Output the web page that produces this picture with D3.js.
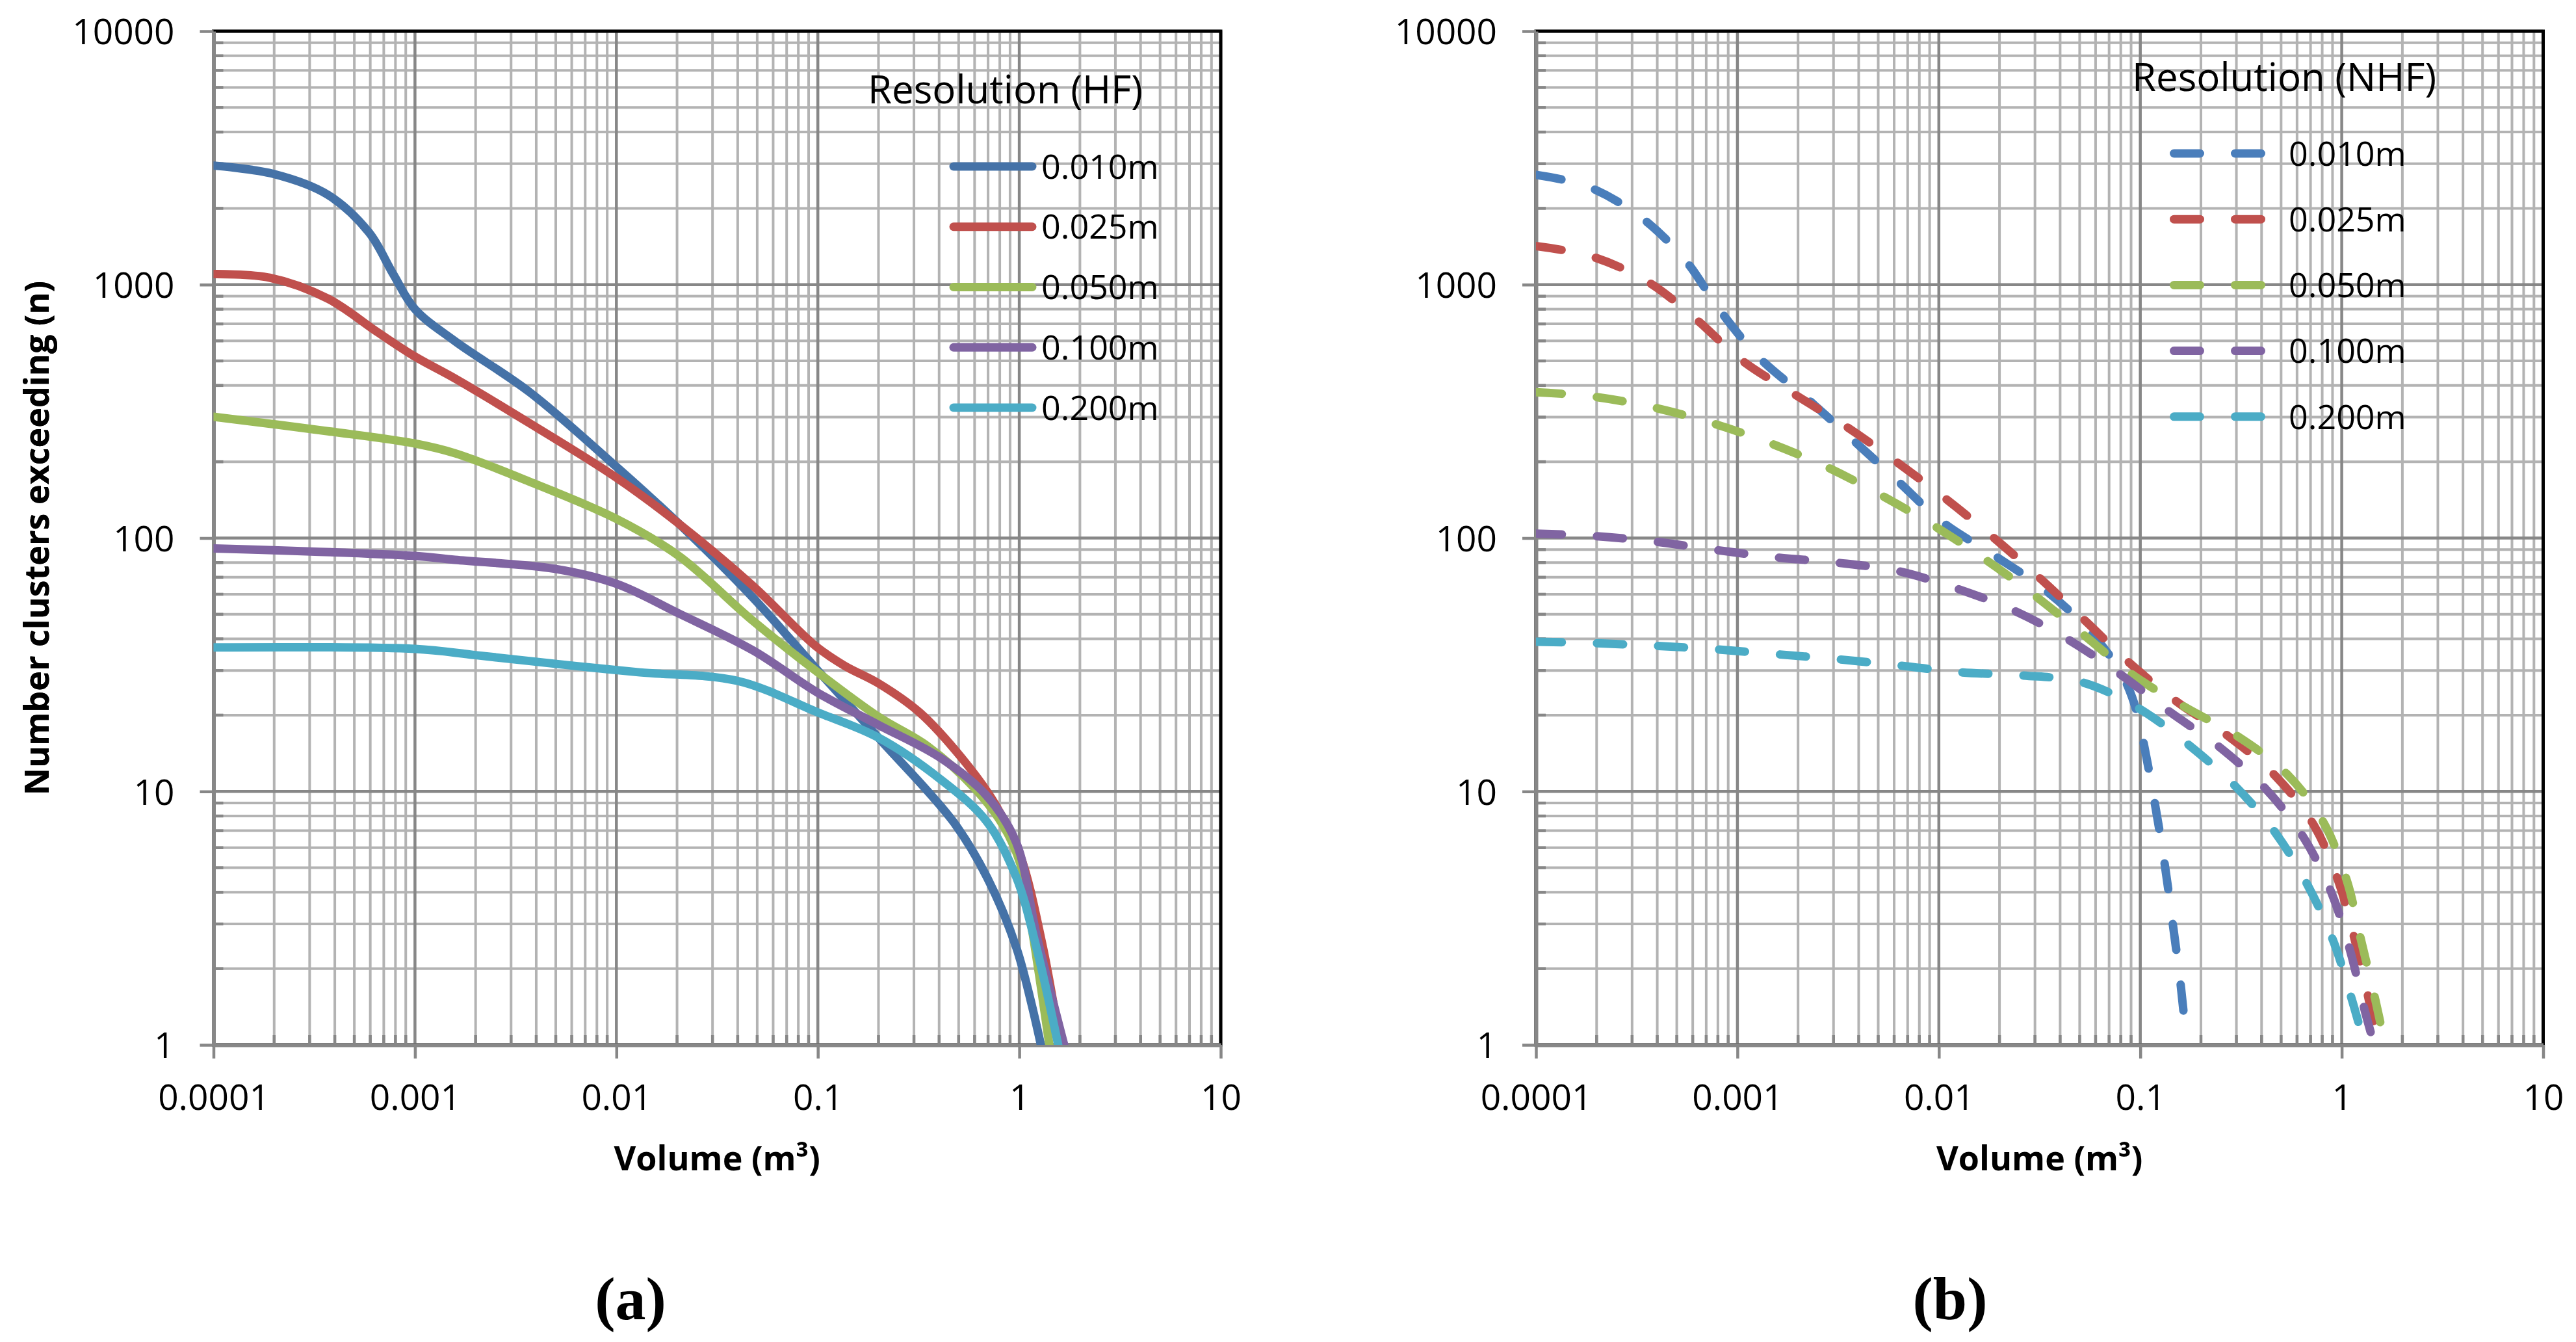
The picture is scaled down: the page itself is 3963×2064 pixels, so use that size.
<!DOCTYPE html>
<html>
<head>
<meta charset="utf-8">
<script src="https://cdn.jsdelivr.net/npm/d3@7"></script>
<style>
  body { margin: 0; background: #fff; }
  text { font-family: "Open Sans", sans-serif; fill: #000; }
</style>
</head>
<body>
<div id="chart"></div>
<script>
// [volume (m3), number of clusters exceeding]
var hf010 = [[0.0001, 2950], [0.0002, 2730], [0.00037, 2260], [0.00059, 1610], [0.00078, 1100],
  [0.001, 800], [0.00158, 598], [0.0037, 377], [0.01, 191], [0.0204, 114], [0.0478, 58],
  [0.1, 30], [0.2, 16.3], [0.47, 7.6], [0.69, 4.6], [0.97, 2.4], [1.28, 1]];
var hf025 = [[0.0001, 1100], [0.00019, 1065], [0.00037, 880], [0.00065, 650], [0.001, 520],
  [0.00158, 426], [0.0037, 284], [0.01, 173], [0.0204, 114], [0.0478, 64.6], [0.0974, 37.5],
  [0.136, 31.3], [0.2, 26.7], [0.32, 20.5], [0.52, 13.5], [0.76, 8.9],
  [1.01, 5.6], [1.3, 2.5], [1.6, 1]];
var hf050 = [[0.0001, 301], [0.00037, 264], [0.001, 236], [0.00158, 216], [0.0037, 167],
  [0.01, 119], [0.0204, 85], [0.0478, 47], [0.1, 29.5], [0.2, 19.7],
  [0.35, 15.1], [0.6, 10.3], [0.835, 7.3], [1.01, 5.2], [1.17, 2.7], [1.41, 1]];
var hf100 = [[0.0001, 91], [0.001, 85], [0.00158, 82], [0.0049, 75.7], [0.01, 66], [0.0204, 50.4],
  [0.048, 35.9], [0.1, 24.5], [0.2, 18.3], [0.41, 13.5], [0.69, 9.6], [0.965, 6.3],
  [1.22, 2.7], [1.67, 1]];
var hf200 = [[0.0001, 37], [0.001, 36.5], [0.002, 34.5], [0.0062, 31.3], [0.0131, 29.5],
  [0.04, 27.3], [0.1, 20.5], [0.2, 16.3], [0.41, 11.1], [0.69, 7.6], [0.965, 4.6],
  [1.22, 2.4], [1.56, 1]];

var nhf010 = [[0.0001, 2710], [0.00018, 2440], [0.00033, 1850], [0.00055, 1250], [0.00082, 790],
  [0.00128, 516], [0.0022, 357], [0.0037, 246], [0.0062, 169], [0.0105, 115], [0.019, 85],
  [0.034, 62], [0.056, 43], [0.079, 30], [0.091, 23.6], [0.1, 17.9], [0.118, 9],
  [0.132, 5.2], [0.145, 3], [0.159, 1.7], [0.17, 1]];
var nhf025 = [[0.0001, 1420], [0.00019, 1290], [0.00036, 1025], [0.00062, 733], [0.00105, 503],
  [0.0019, 371], [0.0035, 274], [0.0061, 201], [0.0108, 143], [0.0188, 100], [0.032, 69],
  [0.0535, 47], [0.089, 32], [0.153, 22.5], [0.274, 16.5], [0.469, 11.5], [0.724, 7.4],
  [0.96, 4.45], [1.156, 2.63], [1.35, 1.56], [1.52, 1]];
var nhf050 = [[0.0001, 376], [0.00019, 362], [0.00038, 328], [0.00076, 283], [0.00147, 236],
  [0.0028, 190], [0.0053, 146], [0.0096, 111], [0.0175, 81], [0.0306, 58.5], [0.0533, 41],
  [0.092, 28.8], [0.167, 21.5], [0.308, 16.4], [0.535, 11.7], [0.815, 7.5], [1.06, 4.45],
  [1.25, 2.57], [1.47, 1.5], [1.64, 1]];
var nhf100 = [[0.0001, 104], [0.00019, 102], [0.00038, 97], [0.00076, 90], [0.00153, 84],
  [0.0031, 80], [0.0063, 74], [0.0124, 63], [0.0239, 51.5], [0.0445, 39.5], [0.08, 28.9],
  [0.139, 20.7], [0.249, 14.9], [0.421, 10.2], [0.645, 6.6], [0.887, 4.0], [1.1, 2.36],
  [1.3, 1.37], [1.45, 1]];
var nhf200 = [[0.0001, 39], [0.00019, 38.5], [0.00038, 37.6], [0.00077, 36.4], [0.00156, 34.8],
  [0.0032, 33.2], [0.0064, 31.4], [0.0129, 29.5], [0.026, 28.7], [0.052, 26.9], [0.099, 21.2],
  [0.175, 15.2], [0.296, 10.5], [0.469, 6.86], [0.676, 4.28], [0.908, 2.57], [1.12, 1.52],
  [1.3, 1]];

var resLabels = ["0.010m", "0.025m", "0.050m", "0.100m", "0.200m"];
var xTicks = [0.0001, 0.001, 0.01, 0.1, 1, 10];
var xTickLabels = ["0.0001", "0.001", "0.01", "0.1", "1", "10"];
var yTicks = [1, 10, 100, 1000, 10000];
var yTickLabels = ["1", "10", "100", "1000", "10000"];

var svgWidth = 3963;
var svgHeight = 2064;
var plotTop = 48;
var plotW = 1549.5;
var plotH = 1559;

var panels = [
  {
    id: "a", left: 328.5, series: [hf010, hf025, hf050, hf100, hf200],
    colors: ["#4572A7", "#C0504D", "#9BBB59", "#8064A2", "#4BACC6"], dash: null,
    legendTitle: "Resolution (HF)", titleX: 1335, titleY: 159,
    lineX0: 1467, lineX1: 1588, textX: 1602, rowY0: 256, rowStep: 92.75,
    caption: "(a)", captionX: 970
  },
  {
    id: "b", left: 2363, series: [nhf010, nhf025, nhf050, nhf100, nhf200],
    colors: ["#4A7EBB", "#C0504D", "#9BBB59", "#8064A2", "#4BACC6"], dash: "40,54",
    legendTitle: "Resolution (NHF)", titleX: 3280, titleY: 140,
    lineX0: 3344.5, lineX1: 3479.5, textX: 3521, rowY0: 236, rowStep: 101.2,
    caption: "(b)", captionX: 3000
  }
];

var svg = d3
  .select("#chart")
  .append("svg")
  .attr("width", svgWidth)
  .attr("height", svgHeight);

var xScale = d3.scaleLog().domain([0.0001, 10]).range([0, plotW]);
var yScale = d3.scaleLog().domain([1, 10000]).range([plotH, 0]);

function isMajor(v) {
  var l = Math.log10(v);
  return Math.abs(l - Math.round(l)) < 1e-9;
}

panels.forEach(function (p) {
  var g = svg
    .append("g")
    .attr("transform", `translate(${p.left}, ${plotTop})`);

  var xAll = xScale.ticks();
  var yAll = yScale.ticks();

  // minor grid first, then major grid on top
  g.selectAll("line.vminor")
    .data(xAll.filter((d) => !isMajor(d)))
    .enter()
    .append("line")
    .attr("x1", (d) => xScale(d))
    .attr("x2", (d) => xScale(d))
    .attr("y1", 0)
    .attr("y2", plotH)
    .attr("stroke", "#b3b3b3")
    .attr("stroke-width", 4);

  g.selectAll("line.hminor")
    .data(yAll.filter((d) => !isMajor(d)))
    .enter()
    .append("line")
    .attr("x1", 0)
    .attr("x2", plotW)
    .attr("y1", (d) => yScale(d))
    .attr("y2", (d) => yScale(d))
    .attr("stroke", "#b3b3b3")
    .attr("stroke-width", 4);

  g.selectAll("line.vmajor")
    .data(xTicks)
    .enter()
    .append("line")
    .attr("x1", (d) => xScale(d))
    .attr("x2", (d) => xScale(d))
    .attr("y1", 0)
    .attr("y2", plotH)
    .attr("stroke", "#878787")
    .attr("stroke-width", 4.5);

  g.selectAll("line.hmajor")
    .data(yTicks)
    .enter()
    .append("line")
    .attr("x1", 0)
    .attr("x2", plotW)
    .attr("y1", (d) => yScale(d))
    .attr("y2", (d) => yScale(d))
    .attr("stroke", "#878787")
    .attr("stroke-width", 4.5);

  // plot area border (top and right stay black)
  g.append("rect")
    .attr("width", plotW)
    .attr("height", plotH)
    .attr("fill", "none")
    .attr("stroke", "#000")
    .attr("stroke-width", 5);

  // minor tick marks point inward
  g.selectAll("line.xmt")
    .data(xAll.filter((d) => !isMajor(d)))
    .enter()
    .append("line")
    .attr("x1", (d) => xScale(d))
    .attr("x2", (d) => xScale(d))
    .attr("y1", plotH)
    .attr("y2", plotH - 15)
    .attr("stroke", "#878787")
    .attr("stroke-width", 4.5);

  g.selectAll("line.ymt")
    .data(yAll.filter((d) => !isMajor(d)))
    .enter()
    .append("line")
    .attr("x1", 0)
    .attr("x2", 15)
    .attr("y1", (d) => yScale(d))
    .attr("y2", (d) => yScale(d))
    .attr("stroke", "#878787")
    .attr("stroke-width", 4.5);

  var xAxis = d3
    .axisBottom(xScale)
    .tickValues(xTicks)
    .tickFormat((d, i) => xTickLabels[i])
    .tickSizeInner(21)
    .tickSizeOuter(0)
    .tickPadding(40);

  var yAxis = d3
    .axisLeft(yScale)
    .tickValues(yTicks)
    .tickFormat((d, i) => yTickLabels[i])
    .tickSizeInner(21)
    .tickSizeOuter(0)
    .tickPadding(39);

  var xg = g.append("g").attr("transform", `translate(0, ${plotH})`).call(xAxis);
  var yg = g.append("g").call(yAxis);

  [xg, yg].forEach(function (ax) {
    ax.select(".domain").attr("stroke", "#878787").attr("stroke-width", 6);
    ax.selectAll(".tick line").attr("stroke", "#878787").attr("stroke-width", 4.5);
    ax.selectAll(".tick text")
      .attr("fill", "#000")
      .style("font-family", '"Open Sans", sans-serif')
      .style("font-size", "55px");
  });
  yg.selectAll(".tick text").attr("dy", "0.36em");

  // curves
  g.append("clipPath")
    .attr("id", "clip-" + p.id)
    .append("rect")
    .attr("width", plotW)
    .attr("height", plotH);

  var line = d3
    .line()
    .x((d) => xScale(d[0]))
    .y((d) => yScale(d[1]))
    .curve(d3.curveCatmullRom.alpha(0.5));

  g.append("g")
    .attr("clip-path", `url(#clip-${p.id})`)
    .selectAll("path")
    .data(p.series)
    .enter()
    .append("path")
    .attr("d", line)
    .attr("fill", "none")
    .attr("stroke", (d, i) => p.colors[i])
    .attr("stroke-width", 13)
    .attr("stroke-linecap", "round")
    .attr("stroke-linejoin", "round")
    .attr("stroke-dasharray", p.dash);

  // axis titles
  g.append("text")
    .attr("x", plotW / 2)
    .attr("y", 1800 - plotTop)
    .style("text-anchor", "middle")
    .style("font-size", "52px")
    .style("font-weight", "bold")
    .text("Volume (m³)");

  g.append("text")
    .attr("transform", `translate(${75 - p.left}, ${plotH / 2}) rotate(-90)`)
    .style("text-anchor", "middle")
    .style("font-size", "52px")
    .style("font-weight", "bold")
    .text("Number clusters exceeding (n)");

  // legend, drawn straight on the grid like the original
  svg.append("text")
    .attr("x", p.titleX)
    .attr("y", p.titleY)
    .style("font-size", "60px")
    .text(p.legendTitle);

  var leg = svg
    .selectAll("g.leg-" + p.id)
    .data(resLabels)
    .enter()
    .append("g")
    .attr("transform", (d, i) => `translate(0, ${p.rowY0 + i * p.rowStep})`);

  leg.append("line")
    .attr("x1", p.lineX0)
    .attr("x2", p.lineX1)
    .attr("stroke", (d, i) => p.colors[i])
    .attr("stroke-width", 13)
    .attr("stroke-linecap", "round")
    .attr("stroke-dasharray", p.dash);

  leg.append("text")
    .attr("x", p.textX)
    .attr("dy", "0.36em")
    .style("font-size", "52px")
    .text((d) => d);

  svg.append("text")
    .attr("x", p.captionX)
    .attr("y", 2029)
    .style("text-anchor", "middle")
    .style("font-family", '"Liberation Serif", "Times New Roman", serif')
    .style("font-weight", "bold")
    .style("font-size", "94px")
    .text(p.caption);
});
</script>
</body>
</html>
